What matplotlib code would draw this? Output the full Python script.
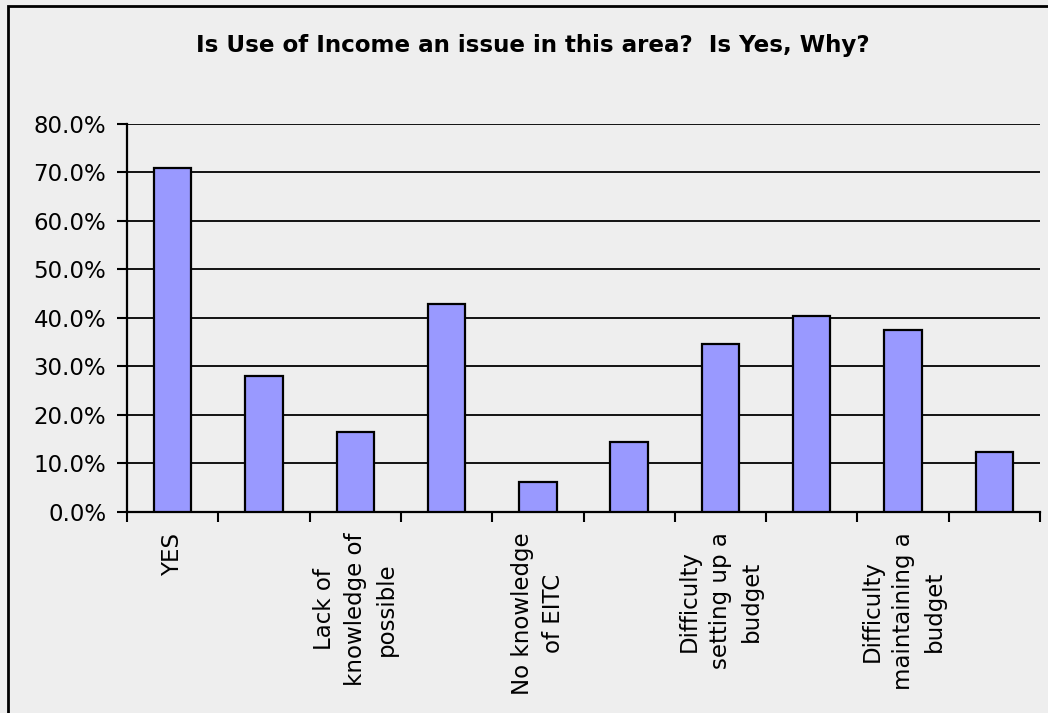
import matplotlib
matplotlib.use("Agg")
import matplotlib.pyplot as plt
from matplotlib.patches import Rectangle
from matplotlib.ticker import FuncFormatter, FixedLocator
import numpy as np

# ---- data ----
categories = ["YES", "", "Lack of\nknowledge of\npossible", "",
              "No knowledge\nof EITC", "", "Difficulty\nsetting up a\nbudget", "",
              "Difficulty\nmaintaining a\nbudget", ""]
values = [70.8, 28.0, 16.5, 42.9, 6.2, 14.4, 34.6, 40.4, 37.5, 12.4]
y_ticks = [0, 10, 20, 30, 40, 50, 60, 70, 80]
title = "Is Use of Income an issue in this area?  Is Yes, Why?"

bg = "#EEEEEE"
bar_color = "#9999FF"

W, H = 1048, 713
fig = plt.figure(figsize=(W / 100, H / 100), dpi=100, facecolor=bg)

# outer chart frame (cropped on right/bottom)
fig.add_artist(Rectangle((8 / W, -0.2), 1.5, 1.2 - 6 / H, transform=fig.transFigure,
                         fill=False, edgecolor="black", linewidth=2.0))

left, right, top, bottom = 127 / W, 1040 / W, 1 - 123.7 / H, 1 - 511.7 / H
ax = fig.add_axes([left, bottom, right - left, top - bottom], facecolor=bg)

x = np.arange(len(values))
ax.bar(x, values, width=0.41, color=bar_color, edgecolor="black", linewidth=1.6, zorder=3)

ax.set_xlim(-0.5, len(values) - 0.5)
ax.set_ylim(0, 80)
ax.set_yticks(y_ticks)
ax.yaxis.set_major_formatter(FuncFormatter(lambda v, p: f"{v:.1f}%"))
ax.grid(axis="y", color="black", linewidth=1.3, zorder=1)
ax.set_axisbelow(True)

# category boundary ticks (major) and centred labels (minor)
ax.xaxis.set_major_locator(FixedLocator(np.arange(-0.5, len(values), 1.0)))
ax.xaxis.set_major_formatter(FuncFormatter(lambda v, p: ""))
ax.xaxis.set_minor_locator(FixedLocator(x))
ax.set_xticklabels(categories, minor=True, rotation=90, ha="center", va="top",
                   multialignment="center", linespacing=1.45, fontsize=16.5)
ax.tick_params(axis="x", which="major", length=7, width=1.5, direction="out", color="black")
ax.tick_params(axis="x", which="minor", length=0, pad=15)
ax.tick_params(axis="y", which="major", length=7, width=1.5, direction="out",
               labelsize=16.5, pad=8)

for s in ["top", "right"]:
    ax.spines[s].set_visible(False)
for s in ["left", "bottom"]:
    ax.spines[s].set_linewidth(1.6)
    ax.spines[s].set_color("black")

fig.text(533 / W, 1 - 52 / H, title, ha="center", va="baseline",
         fontsize=16.6, fontweight="bold")

fig.savefig("out.png", dpi=100, facecolor=bg)
